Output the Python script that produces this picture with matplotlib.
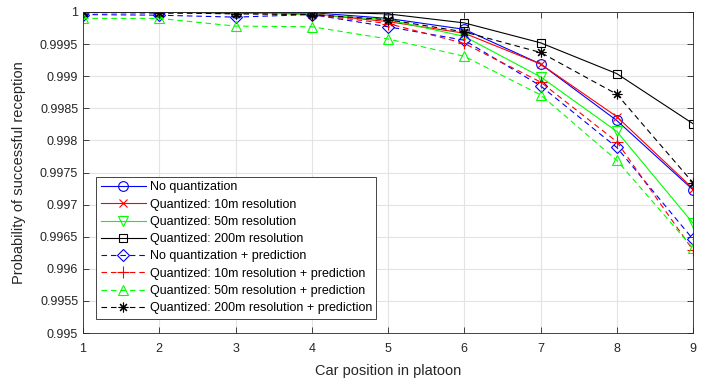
import numpy as np
import matplotlib
matplotlib.use('Agg')
import matplotlib.pyplot as plt

plt.rcParams['font.family'] = ['Liberation Sans', 'DejaVu Sans']

positions = [1, 2, 3, 4, 5, 6, 7, 8, 9]

# values
no_quant = [1.0, 1.0, 0.99998, 0.99999, 0.99990, 0.99973, 0.99919, 0.99831, 0.99723]
quant_10 = [1.0, 1.0, 0.99999, 0.99997, 0.99985, 0.99967, 0.99919, 0.99837, 0.99725]
quant_50 = [1.0, 1.0, 0.99999, 0.99996, 0.99988, 0.99962, 0.99899, 0.99814, 0.99671]
quant_200 = [1.0, 1.0, 1.0, 1.0, 0.99997, 0.99983, 0.99952, 0.99904, 0.99826]
no_quant_pred = [0.99996, 0.99995, 0.99992, 0.99996, 0.99977, 0.99956, 0.99885, 0.99789, 0.99646]
quant_10_pred = [0.99999, 0.99998, 0.99998, 0.99996, 0.99982, 0.99951, 0.99891, 0.99798, 0.99629]
quant_50_pred = [0.9999, 0.9999, 0.99978, 0.99977, 0.99958, 0.99931, 0.99871, 0.99769, 0.99632]
quant_200_pred = [1.0, 0.99999, 0.99997, 0.99996, 0.99988, 0.99969, 0.99937, 0.99872, 0.99734]

labels = ['No quantization',
          'Quantized: 10m resolution',
          'Quantized: 50m resolution',
          'Quantized: 200m resolution',
          'No quantization + prediction',
          'Quantized: 10m resolution + prediction',
          'Quantized: 50m resolution + prediction',
          'Quantized: 200m resolution + prediction']

series = [no_quant, quant_10, quant_50, quant_200,
          no_quant_pred, quant_10_pred, quant_50_pred, quant_200_pred]
colors = ['b', 'r', '#00ff00', 'k', 'b', 'r', '#00ff00', 'k']
markers = ['o', 'x', 'v', 's', 'D', '+', '^', (8, 2, 0)]
styles = ['-', '-', '-', '-', '--', '--', '--', '--']
sizes = [7, 6, 7, 6, 6, 8, 7, 7]

fig = plt.figure(figsize=(7.13, 3.83), dpi=100)
ax = fig.add_axes([0.1164, 0.1305, 0.8556, 0.8382])

for y, lab, c, m, ls, ms in zip(series, labels, colors, markers, styles, sizes):
    line, = ax.plot(positions, y, color=c, marker=m, linestyle=ls, label=lab,
                    linewidth=0.8, markersize=ms, markerfacecolor='none',
                    markeredgecolor=c, markeredgewidth=0.8)
    if ls == '--':
        line.set_dashes((5, 3.5))

ax.set_xlim(1, 9)
ax.set_ylim(0.995, 1.0)
ax.set_xticks(positions)
ax.set_yticks(np.arange(0.995, 1.00001, 0.0005))
ax.set_yticklabels(['0.995', '0.9955', '0.996', '0.9965', '0.997', '0.9975',
                    '0.998', '0.9985', '0.999', '0.9995', '1'])
ax.grid(True, color='#e3e3e3', linewidth=0.8)
ax.set_axisbelow(True)
ax.tick_params(direction='in', labelsize=9, colors='#262626', length=4, width=0.6,
               top=True, right=True)
ax.tick_params(axis='x', pad=7)
for s in ax.spines.values():
    s.set_color('#262626')
    s.set_linewidth(0.6)

ax.set_xlabel('Car position in platoon', fontsize=10.5, color='#262626', labelpad=7)
ax.set_ylabel('Probability of successful reception', fontsize=10.5, color='#262626', labelpad=10)

leg = ax.legend(loc='lower left', bbox_to_anchor=(0.022, 0.045), fontsize=9,
                fancybox=False, framealpha=1, edgecolor='#262626',
                handlelength=3.6, labelspacing=0.42, borderpad=0.35, handletextpad=0.3,
                borderaxespad=0)
leg.get_frame().set_linewidth(0.6)

fig.savefig('out.png', dpi=100)
